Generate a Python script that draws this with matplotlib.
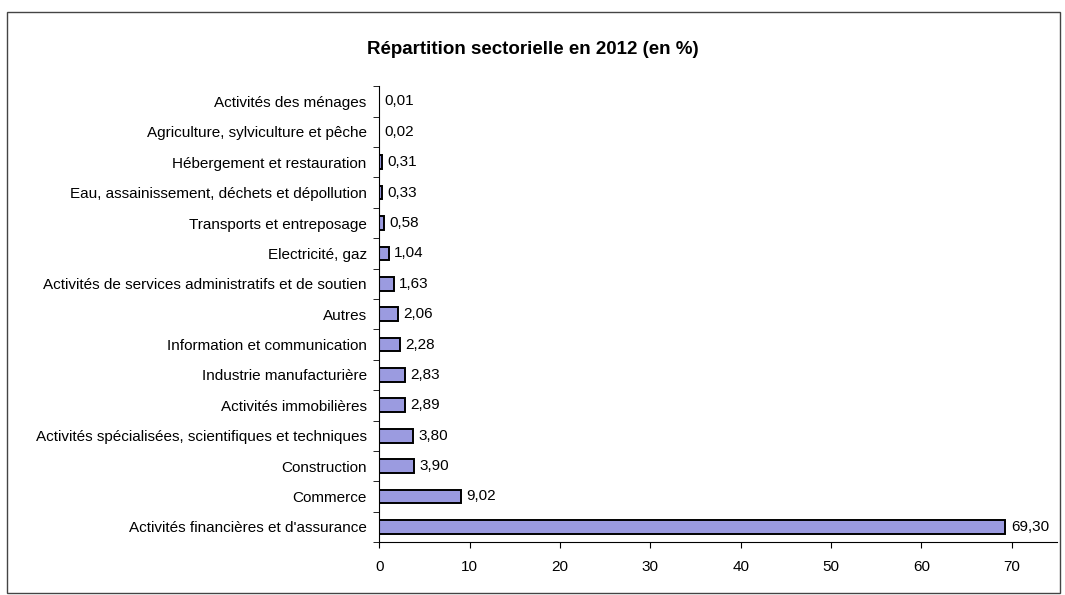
#!/usr/bin/env python
import numpy as np
import matplotlib
matplotlib.use('Agg')
import matplotlib.pyplot as plt
from matplotlib.patches import Rectangle

plt.rcParams['font.family'] = ['Liberation Sans', 'DejaVu Sans']

# bottom to top, as in the chart
sectors = ["Activités financières et d'assurance",
           "Commerce",
           "Construction",
           "Activités spécialisées, scientifiques et techniques",
           "Activités immobilières",
           "Industrie manufacturière",
           "Information et communication",
           "Autres",
           "Activités de services administratifs et de soutien",
           "Electricité, gaz",
           "Transports et entreposage",
           "Eau, assainissement, déchets et dépollution",
           "Hébergement et restauration",
           "Agriculture, sylviculture et pêche",
           "Activités des ménages"]
shares = [69.30, 9.02, 3.90, 3.80, 2.89, 2.83, 2.28, 2.06, 1.63, 1.04,
          0.58, 0.33, 0.31, 0.02, 0.01]
x_ticks = [0, 10, 20, 30, 40, 50, 60, 70]

fig = plt.figure(figsize=(10.65, 5.95), dpi=100)
ax = fig.add_axes([0.356, 0.089, 0.6365, 0.766])

pos = np.arange(len(sectors))
ax.barh(pos, shares, height=0.45, color='#9b9be0', edgecolor='black', linewidth=1.4)
for p, v in zip(pos, shares):
    ax.text(v + 0.6, p, "{:.2f}".format(v).replace('.', ','), va='center', ha='left', fontsize=11)

ax.set_xlim(0, 75)
ax.set_ylim(-0.5, len(sectors) - 0.5)
ax.set_xticks(x_ticks)
ax.set_xticklabels([str(t) for t in x_ticks], fontsize=11)
ax.set_yticks(pos)
ax.set_yticklabels(sectors, fontsize=11)
ax.tick_params(axis='y', length=0, pad=9)
ax.tick_params(axis='x', length=4, pad=9)
# category separators like Excel
ax.set_yticks(np.arange(-0.5, len(sectors), 1), minor=True)
ax.tick_params(axis='y', which='minor', length=4, direction='out')

for s in ['top', 'right']:
    ax.spines[s].set_visible(False)

fig.text(0.5, 0.916, "Répartition sectorielle en 2012 (en %)", ha='center', va='center',
         fontsize=13.5, fontweight='bold')

fig.patches.append(Rectangle((0.007, 0.003), 0.988, 0.977, transform=fig.transFigure,
                             fill=False, edgecolor='#444444', linewidth=1.0))

plt.savefig("out.png", dpi=100)
